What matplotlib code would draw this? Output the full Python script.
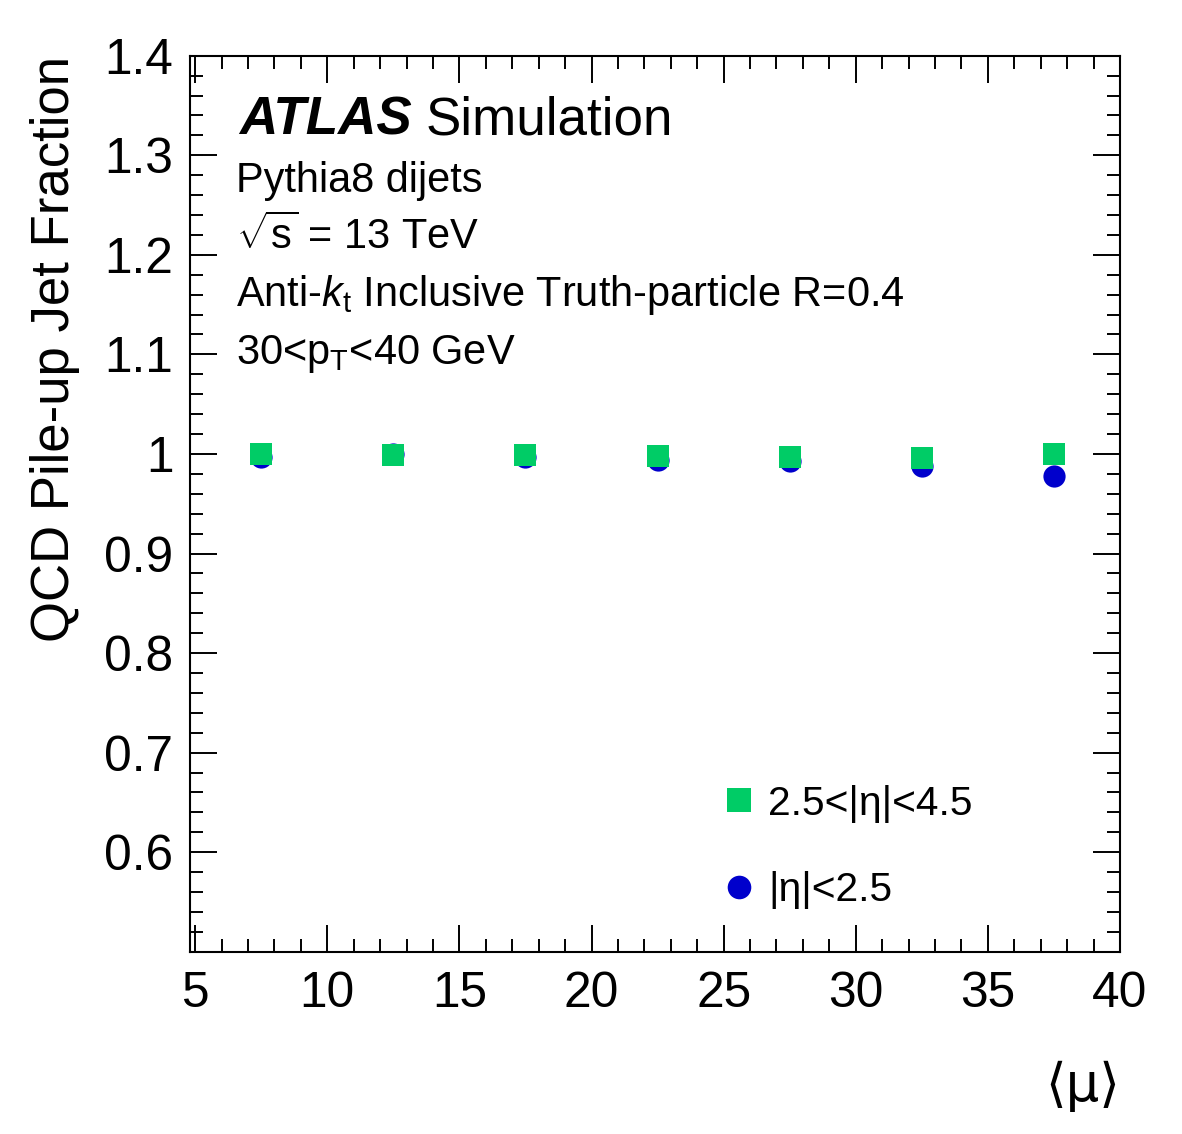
import numpy as np
import matplotlib
matplotlib.use("Agg")
import matplotlib.pyplot as plt
from matplotlib.ticker import MultipleLocator, FixedLocator, FixedFormatter
from matplotlib.lines import Line2D

plt.rcParams['font.family'] = ['Liberation Sans', 'DejaVu Sans']
plt.rcParams['mathtext.fontset'] = 'custom'
plt.rcParams['mathtext.rm'] = 'Liberation Sans'
plt.rcParams['mathtext.it'] = 'Liberation Sans:italic'
plt.rcParams['mathtext.bf'] = 'Liberation Sans:bold'

# <mu> bin centres
mu_centres = [7.5, 12.5, 17.5, 22.5, 27.5, 32.5, 37.5]
# pile-up jet fraction, central jets |eta|<2.5
frac_central = [0.997, 1.000, 0.9965, 0.994, 0.9925, 0.988, 0.978]
# pile-up jet fraction, forward jets 2.5<|eta|<4.5
frac_forward = [1.000, 0.999, 0.999, 0.998, 0.997, 0.996, 1.000]

y_ticks = [0.6, 0.7, 0.8, 0.9, 1.0, 1.1, 1.2, 1.3, 1.4]
y_tick_labels = ['0.6', '0.7', '0.8', '0.9', '1', '1.1', '1.2', '1.3', '1.4']
x_ticks = [5, 10, 15, 20, 25, 30, 35, 40]

col_central = '#0000cc'
col_forward = '#00cc66'

fig = plt.figure(figsize=(11.82, 11.34), dpi=100)
ax = fig.add_axes([0.1607, 0.1607, 0.7868, 0.7902])

ax.plot(mu_centres, frac_central, 'o', color=col_central, markersize=16,
        markeredgewidth=0, zorder=3)
ax.plot(mu_centres, frac_forward, 's', color=col_forward, markersize=16.5,
        markeredgewidth=0, zorder=4)

ax.set_xlim(4.8, 40)
ax.set_ylim(0.5, 1.4)

ax.xaxis.set_major_locator(FixedLocator(x_ticks))
ax.xaxis.set_minor_locator(MultipleLocator(1))
ax.yaxis.set_major_locator(FixedLocator(y_ticks))
ax.yaxis.set_major_formatter(FixedFormatter(y_tick_labels))
ax.yaxis.set_minor_locator(MultipleLocator(0.02))

ax.tick_params(which='both', direction='in', top=True, right=True, width=1.4)
ax.tick_params(which='major', length=19.5, labelsize=35.7)
ax.tick_params(which='minor', length=9.7)
ax.tick_params(axis='y', which='major', pad=12)
ax.tick_params(axis='x', which='major', pad=14)
for sp in ax.spines.values():
    sp.set_linewidth(1.5)

# axis titles (ROOT style: top / right aligned)
ax.text(-0.118, 1.0, 'QCD Pile-up Jet Fraction', rotation=90, fontsize=38,
        ha='right', va='bottom', rotation_mode='anchor', transform=ax.transAxes)
ax.text(1.0, -0.166, '\u27e8\u03bc\u27e9', fontsize=38, ha='right', va='baseline',
        transform=ax.transAxes, family=['DejaVu Sans'])

# ATLAS label
atlas = ax.text(0.053, 0.9115, 'ATLAS', fontsize=38.2, fontweight='bold',
                fontstyle='italic', va='baseline', transform=ax.transAxes)
fig.canvas.draw()
bb = atlas.get_window_extent()
x_sim = ax.transAxes.inverted().transform((bb.x1 + 14, bb.y0))[0]
ax.text(x_sim, 0.9115, 'Simulation', fontsize=38.2, va='baseline',
        transform=ax.transAxes)

info = ['Pythia8 dijets',
        r'$\sqrt{\mathrm{s}}$ = 13 TeV',
        r'Anti-$k_{\mathrm{t}}$ Inclusive Truth-particle R=0.4',
        r'30<p$_{\mathrm{T}}$<40 GeV']
info_y = [0.8479, 0.7843, 0.7207, 0.6560]
for txt, yy in zip(info, info_y):
    ax.text(0.05, yy, txt, fontsize=29.9, va='baseline', transform=ax.transAxes)

handles = [Line2D([], [], ls='none', marker='s', color=col_forward,
                  markersize=17, markeredgewidth=0),
           Line2D([], [], ls='none', marker='o', color=col_central,
                  markersize=17, markeredgewidth=0)]
ax.legend(handles, ['2.5<|\u03b7|<4.5', '|\u03b7|<2.5'], loc='center left',
          bbox_to_anchor=(0.569, 0.117), frameon=False, fontsize=29.3,
          handlelength=1.0, handletextpad=0.2, labelspacing=1.2,
          borderpad=0, borderaxespad=0)

fig.savefig('out.png', dpi=100)
